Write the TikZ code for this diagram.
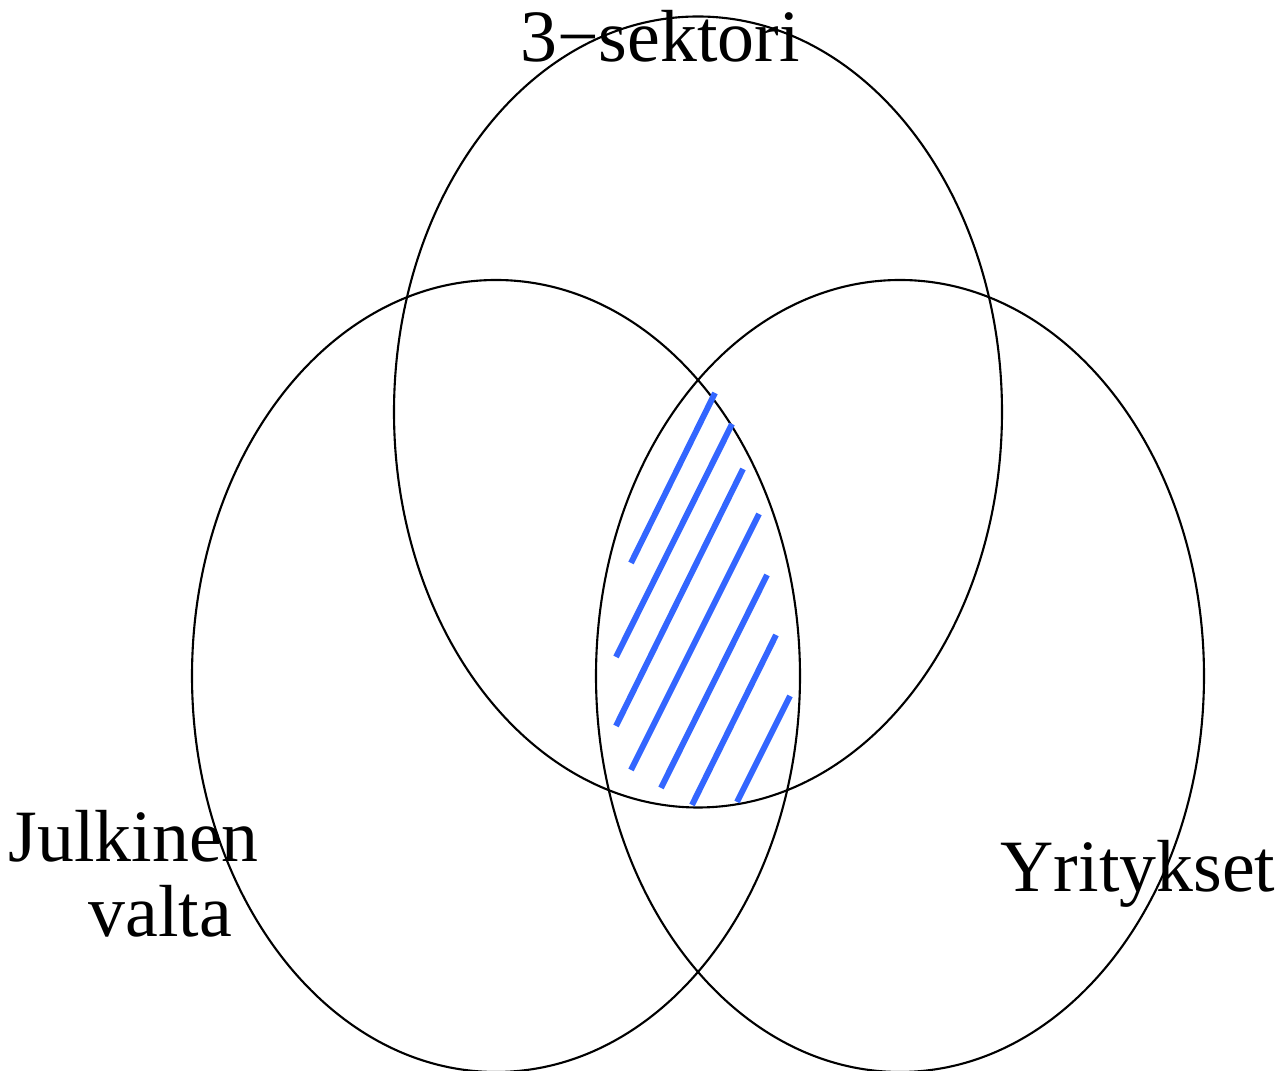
\documentclass[tikz,border=0pt]{standalone}
\usepackage{fontspec}
\setmainfont{Liberation Serif}
\usepackage{tikz}
\definecolor{hatchblue}{RGB}{51,102,255}
\tikzstyle{every node}=[inner sep=0pt, font=\fontsize{21}{25}\selectfont]
\tikzstyle{set}=[line width=0.6pt]
\tikzstyle{hatch}=[hatchblue, line width=1.7pt]

\begin{document}
\begin{tikzpicture}
\useasboundingbox (0,0) rectangle (12.84,10.71);
\draw[set] (6.98,6.59) ellipse [x radius=3.04, y radius=3.955];
\draw[set] (4.96,3.95) ellipse [x radius=3.04, y radius=3.96];
\draw[set] (9.00,3.95) ellipse [x radius=3.04, y radius=3.96];
\foreach \a/\b in {{6.31,5.08}/{7.15,6.78}, {6.16,4.14}/{7.32,6.47},
	{6.16,3.45}/{7.43,6.02}, {6.31,3.01}/{7.59,5.57}, {6.61,2.83}/{7.67,4.96},
	{6.92,2.66}/{7.76,4.36}, {7.37,2.69}/{7.90,3.75}}
{
	\draw[hatch] (\a) -- (\b);
};
\node (sektori) [anchor=base] at (6.60,10.09) {3−sektori};
\node (julkinen) [anchor=base west] at (0.08,2.09) {Julkinen};
\node (valta) [anchor=base west] at (0.88,1.34) {valta};
\node (yritykset) [anchor=base west] at (10.00,1.79) {Yritykset};
\end{tikzpicture}
\end{document}
